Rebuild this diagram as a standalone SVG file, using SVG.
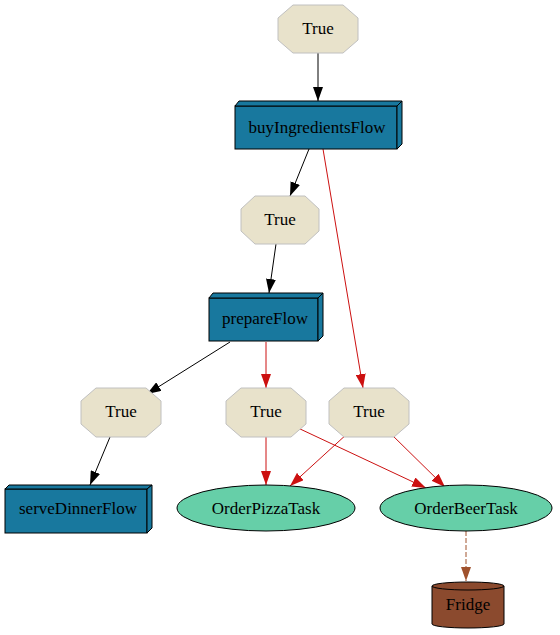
<svg xmlns="http://www.w3.org/2000/svg" width="560" height="635" viewBox="0 0 560 635">
<defs>
<style>
.t{font-family:"Liberation Serif","Times New Roman",serif;font-size:17px;text-anchor:middle;fill:#000}
.oct{fill:#e8e2cb;stroke:#c0c0c0;stroke-width:1}
.box{fill:#18789e;stroke:#000;stroke-width:1}
.ell{fill:#66cfa8;stroke:#000;stroke-width:1}
.e{fill:none;stroke-width:1}
.k{stroke:#000;marker-end:url(#ak)}
.r{stroke:#cc1010;marker-end:url(#ar)}
.s{stroke:#a0522d;stroke-dasharray:5,2;marker-end:url(#as)}
</style>
<marker id="ak" markerUnits="userSpaceOnUse" markerWidth="14" markerHeight="10" refX="14" refY="5" orient="auto"><path d="M0,0 L14,5 L0,10 z" fill="#000"/></marker>
<marker id="ar" markerUnits="userSpaceOnUse" markerWidth="14" markerHeight="10" refX="14" refY="5" orient="auto"><path d="M0,0 L14,5 L0,10 z" fill="#cc1010"/></marker>
<marker id="as" markerUnits="userSpaceOnUse" markerWidth="14" markerHeight="10" refX="14" refY="5" orient="auto"><path d="M0,0 L14,5 L0,10 z" fill="#a0522d"/></marker>
</defs>
<g id="edges">
<path class="e k" d="M318,53 L318,101"/>
<path class="e k" d="M309,149 L290,196"/>
<path class="e r" d="M323,149 L363,388"/>
<path class="e k" d="M276,244 L269,293"/>
<path class="e k" d="M230,342 L147,394"/>
<path class="e r" d="M266,342 L266,388"/>
<path class="e k" d="M110,437 L90,485"/>
<path class="e r" d="M266,437 L266,485"/>
<path class="e r" d="M298,428 L426,488"/>
<path class="e r" d="M348,433 L290,486"/>
<path class="e r" d="M390,433 L445,487"/>
<path class="e s" d="M466,531 L466,581"/>
</g>
<g id="true1">
<polygon class="oct" points="293,5 343,5 358,18 358,40 343,53 293,53 278,40 278,18"/>
<text class="t" x="318" y="34">True</text>
</g>
<g id="buyIngredientsFlow">
<rect class="box" x="235" y="106" width="162" height="43"/>
<polygon class="box" points="235,106 239,101 402,101 397,106"/>
<polygon class="box" points="397,106 402,101 402,144 397,149"/>
<text class="t" x="317" y="133">buyIngredientsFlow</text>
</g>
<g id="true2">
<polygon class="oct" points="255,196 305,196 319,209 319,231 305,244 255,244 241,231 241,209"/>
<text class="t" x="280" y="225">True</text>
</g>
<g id="prepareFlow">
<rect class="box" x="209" y="298" width="109" height="43"/>
<polygon class="box" points="209,298 213,293 323,293 318,298"/>
<polygon class="box" points="318,298 323,293 323,336 318,341"/>
<text class="t" x="265" y="324">prepareFlow</text>
</g>
<g id="true3">
<polygon class="oct" points="96,388 146,388 161,401 161,424 146,437 96,437 81,424 81,401"/>
<text class="t" x="121" y="417">True</text>
</g>
<g id="true4">
<polygon class="oct" points="241,388 291,388 306,401 306,424 291,437 241,437 226,424 226,401"/>
<text class="t" x="266" y="417">True</text>
</g>
<g id="true5">
<polygon class="oct" points="344,388 394,388 409,401 409,424 394,437 344,437 329,424 329,401"/>
<text class="t" x="369" y="417">True</text>
</g>
<g id="serveDinnerFlow">
<rect class="box" x="5" y="489" width="142" height="44"/>
<polygon class="box" points="5,489 9,485 152,485 147,489"/>
<polygon class="box" points="147,489 152,485 152,528 147,533"/>
<text class="t" x="78" y="514">serveDinnerFlow</text>
</g>
<g id="OrderPizzaTask">
<ellipse class="ell" cx="266" cy="508" rx="89" ry="23"/>
<text class="t" x="266" y="514">OrderPizzaTask</text>
</g>
<g id="OrderBeerTask">
<ellipse class="ell" cx="466" cy="508" rx="86" ry="23"/>
<text class="t" x="466" y="514">OrderBeerTask</text>
</g>
<g id="Fridge">
<path d="M432,586 L432,624 A36,4 0 0 0 504,624 L504,586 A36,4 0 0 0 432,586 Z" fill="#8b4a2e" stroke="#000" stroke-width="1"/>
<path d="M432,586 A36,4 0 0 0 504,586" fill="none" stroke="#000" stroke-width="1"/>
<text class="t" x="468" y="610">Fridge</text>
</g>
</svg>
